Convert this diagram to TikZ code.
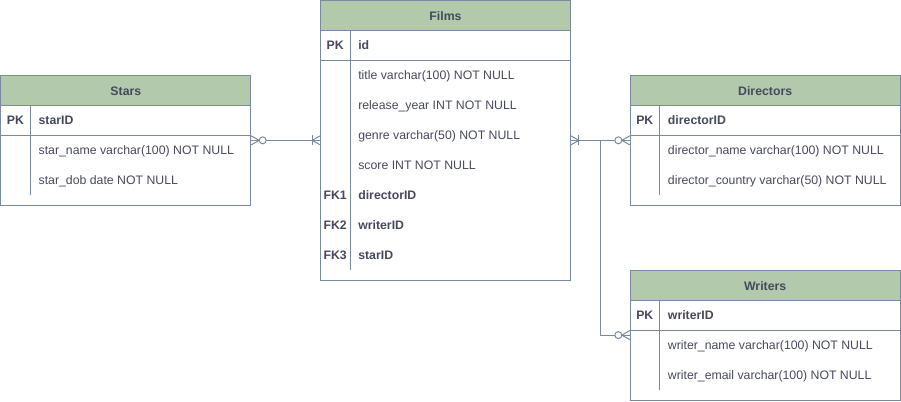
\documentclass[tikz,border=0pt]{standalone}
\usepackage{fontspec}
\setmainfont{Liberation Sans}
\usetikzlibrary{calc}
\definecolor{edge}{HTML}{788AA3}
\definecolor{head}{HTML}{B2C9AB}
\definecolor{ink}{HTML}{46495D}
\tikzstyle{entity} = [rectangle, draw=edge, line width=1pt, anchor=north west, inner sep=0pt]
\tikzstyle{entityhead} = [rectangle, draw=edge, fill=head, line width=1pt, minimum height=30pt, anchor=north west, inner sep=0pt, text=ink, font=\fontsize{12.3}{14}\selectfont\bfseries]
\tikzstyle{keycell} = [anchor=base, yshift=-4.5pt, text=ink, inner sep=0pt, font=\fontsize{12.3}{14}\selectfont\bfseries]
\tikzstyle{attr} = [anchor=base west, yshift=-4.5pt, inner sep=0pt, text=ink, font=\fontsize{12.3}{14}\selectfont]
\tikzstyle{keyattr} = [attr, font=\fontsize{12.3}{14}\selectfont\bfseries]
\tikzstyle{rel} = [draw=edge, line width=1pt]
\tikzset{
  zeromany/.pic={\draw [rel] (0,-4.5) -- (8,0) -- (0,4.5); \draw [rel, fill=white] (11.5,0) circle (3.5pt);},
  onemany/.pic={\draw [rel] (0,-4.5) -- (8,0) -- (0,4.5); \draw [rel] (8,-5) -- (8,5);}
}

\begin{document}
\begin{tikzpicture}[x=1pt, y=-1pt]
        \path [fill=white] (-0.5,-0.5) rectangle (900.5,400.5);

        % Films
        \node (films) [entity, minimum width=250pt, minimum height=280pt] at (320,0) {};
        \node (films_head) [entityhead, minimum width=250pt] at (films.north west) {Films};
        \node (films_pk) [keycell] at (335,45) {PK};
        \node (films_id) [keyattr] at (358,45) {id};
        \node (films_title) [attr] at (358,75) {title varchar(100) NOT NULL};
        \node (films_year) [attr] at (358,105) {release\_year INT NOT NULL};
        \node (films_genre) [attr] at (358,135) {genre varchar(50) NOT NULL};
        \node (films_score) [attr] at (358,165) {score INT NOT NULL};
        \node (films_fk1) [keycell] at (335,195) {FK1};
        \node (films_dir) [keyattr] at (358,195) {directorID};
        \node (films_fk2) [keycell] at (335,225) {FK2};
        \node (films_wri) [keyattr] at (358,225) {writerID};
        \node (films_fk3) [keycell] at (335,255) {FK3};
        \node (films_star) [keyattr] at (358,255) {starID};
        \draw [rel] ($(films.north west)+(0,60)$) -- ($(films.north east)+(0,60)$);
        \draw [rel] ($(films.north west)+(30,30)$) -- ++(0,240);

        % Stars
        \node (stars) [entity, minimum width=250pt, minimum height=130pt] at (0,75) {};
        \node (stars_head) [entityhead, minimum width=250pt] at (stars.north west) {Stars};
        \node (stars_pk) [keycell] at (15,120) {PK};
        \node (stars_id) [keyattr] at (38,120) {starID};
        \node (stars_name) [attr] at (38,150) {star\_name varchar(100) NOT NULL};
        \node (stars_dob) [attr] at (38,180) {star\_dob date NOT NULL};
        \draw [rel] ($(stars.north west)+(0,60)$) -- ($(stars.north east)+(0,60)$);
        \draw [rel] ($(stars.north west)+(30,30)$) -- ++(0,90);

        % Directors
        \node (directors) [entity, minimum width=270pt, minimum height=130pt] at (630,75) {};
        \node (directors_head) [entityhead, minimum width=270pt] at (directors.north west) {Directors};
        \node (directors_pk) [keycell] at (645,120) {PK};
        \node (directors_id) [keyattr] at (668,120) {directorID};
        \node (directors_name) [attr] at (668,150) {director\_name varchar(100) NOT NULL};
        \node (directors_country) [attr] at (668,180) {director\_country varchar(50) NOT NULL};
        \draw [rel] ($(directors.north west)+(0,60)$) -- ($(directors.north east)+(0,60)$);
        \draw [rel] ($(directors.north west)+(30,30)$) -- ++(0,90);

        % Writers
        \node (writers) [entity, minimum width=270pt, minimum height=130pt] at (630,270) {};
        \node (writers_head) [entityhead, minimum width=270pt] at (writers.north west) {Writers};
        \node (writers_pk) [keycell] at (645,315) {PK};
        \node (writers_id) [keyattr] at (668,315) {writerID};
        \node (writers_name) [attr] at (668,345) {writer\_name varchar(100) NOT NULL};
        \node (writers_email) [attr] at (668,375) {writer\_email varchar(100) NOT NULL};
        \draw [rel] ($(writers.north west)+(0,60)$) -- ($(writers.north east)+(0,60)$);
        \draw [rel] ($(writers.north west)+(30,30)$) -- ++(0,90);

        % relations
        \coordinate (star_end) at ($(stars.north east)+(0,65)$);
        \coordinate (film_left) at (films.west |- star_end);
        \coordinate (film_right) at (films.east |- star_end);
        \coordinate (dir_end) at (directors.west |- star_end);
        \coordinate (wri_end) at ($(writers.north west)+(0,65)$);
        \coordinate (split) at ($(film_right)+(30,0)$);

        \draw [rel] (star_end) -- (film_left);
        \draw [rel] (film_right) -- (dir_end);
        \draw [rel] (split) |- (wri_end);
        \pic at (star_end) {zeromany};
        \pic [xscale=-1] at (film_left) {onemany};
        \pic at (film_right) {onemany};
        \pic [xscale=-1] at (dir_end) {zeromany};
        \pic [xscale=-1] at (wri_end) {zeromany};
    \end{tikzpicture}
\end{document}
